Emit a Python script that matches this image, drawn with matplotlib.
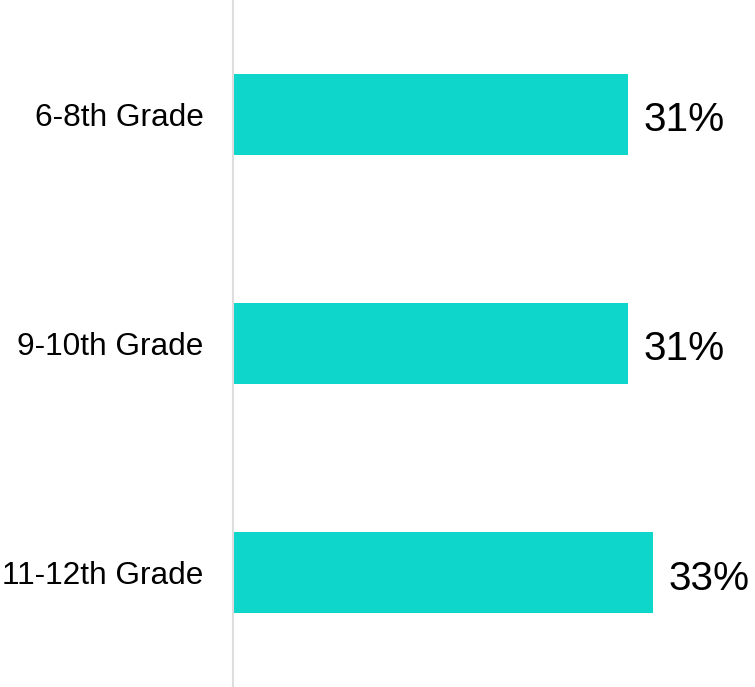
import matplotlib
matplotlib.use("Agg")
import matplotlib.pyplot as plt

categories = ["6-8th Grade", "9-10th Grade", "11-12th Grade"]
values = [31, 31, 33]
value_labels = ["31%", "31%", "33%"]

plt.rcParams['font.family'] = ['Liberation Sans', 'DejaVu Sans']

W, H = 755, 687
fig = plt.figure(figsize=(W / 100, H / 100), dpi=100)
left = 233 / W
ax = fig.add_axes([left, 0, 1 - left, 1])

y = list(range(len(categories)))
ax.barh(y, values, height=0.353, color="#0fd6cb", zorder=2)
ax.set_xlim(0, (W - 233) / 12.74)
ax.set_ylim(2.497, -0.497)

ax.set_yticks(y)
ax.set_yticklabels(categories, fontsize=22.8, color="#000000")
ax.tick_params(axis='y', length=0, pad=21)
ax.set_xticks([])

for s in ["top", "right", "bottom"]:
    ax.spines[s].set_visible(False)
ax.spines["left"].set_color("#dddddd")
ax.spines["left"].set_linewidth(1.5)

for yi, v, lab in zip(y, values, value_labels):
    ax.annotate(lab, xy=(v, yi), xytext=(11, -4), textcoords="offset points",
                va="center", ha="left", fontsize=29.2, color="#000000")

fig.savefig("out.png", dpi=100)
